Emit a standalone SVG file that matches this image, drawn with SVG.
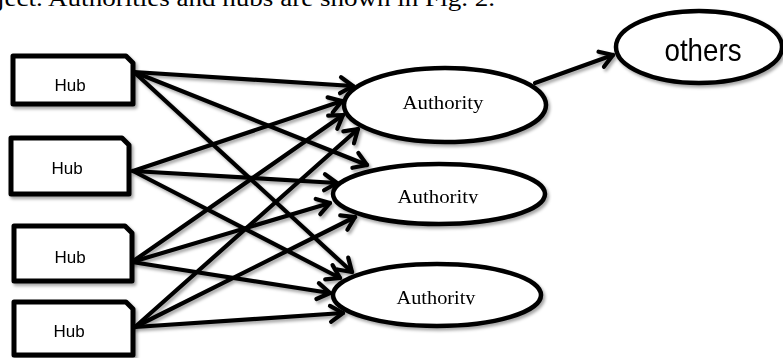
<svg xmlns="http://www.w3.org/2000/svg" width="783" height="358" viewBox="0 0 783 358">
<defs>
<style>
.box{fill:#fff;stroke:#000;stroke-width:5;stroke-linejoin:round}
.ell{fill:#fff;stroke:#000;stroke-width:4.5}
.hub{font-family:"Liberation Sans",Arial,sans-serif;font-size:17px;fill:#000;text-anchor:middle}
.auth{font-family:"Liberation Serif","Times New Roman",serif;font-size:19px;fill:#000;text-anchor:middle}
.edge{fill:none;stroke:#000;stroke-width:4.2;stroke-linecap:round;marker-end:url(#arr)}
</style>
<marker id="arr" viewBox="-16 -11 19 22" refX="0" refY="0" markerWidth="19" markerHeight="22" markerUnits="userSpaceOnUse" orient="auto">
<path d="M-12.5,-8 L0,0 L-12.5,8" fill="none" stroke="#000" stroke-width="4.2" stroke-linecap="round" stroke-linejoin="round"/>
</marker>
<filter id="sh" x="-10%" y="-10%" width="130%" height="130%">
<feDropShadow dx="2" dy="2.5" stdDeviation="1.5" flood-color="#000" flood-opacity="0.35"/>
</filter>
<clipPath id="cut2"><rect x="380" y="170" width="120" height="33.5"/></clipPath>
<clipPath id="cut3"><rect x="380" y="270" width="120" height="34.5"/></clipPath>
</defs>
<rect width="783" height="358" fill="#fff"/>
<text x="-3" y="6" font-family="'Liberation Serif','Times New Roman',serif" font-size="23" textLength="498" lengthAdjust="spacingAndGlyphs">ject. Authorities and hubs  are shown in Fig. 2.</text>
<g id="connectors" filter="url(#sh)">
<line class="edge" x1="134" y1="72" x2="353" y2="86"/>
<line class="edge" x1="134" y1="72" x2="367" y2="165"/>
<line class="edge" x1="134" y1="72" x2="352" y2="272"/>
<line class="edge" x1="133" y1="171" x2="342" y2="101"/>
<line class="edge" x1="133" y1="171" x2="337" y2="183"/>
<line class="edge" x1="133" y1="171" x2="340" y2="278"/>
<line class="edge" x1="132" y1="262" x2="343" y2="115"/>
<line class="edge" x1="132" y1="262" x2="330" y2="203"/>
<line class="edge" x1="132" y1="262" x2="330" y2="293"/>
<line class="edge" x1="135" y1="327" x2="358" y2="129"/>
<line class="edge" x1="135" y1="327" x2="355" y2="217"/>
<line class="edge" x1="135" y1="327" x2="343" y2="313"/>
<line class="edge" x1="535" y1="83" x2="613" y2="55"/>
</g>
<g id="hub1" filter="url(#sh)"><path class="box" d="M13,56 H126 L133,63 V104 H13 Z"/><text class="hub" x="70" y="91">Hub</text></g>
<g id="hub2" filter="url(#sh)"><path class="box" d="M11,138 H122 L129,145 V194 H11 Z"/><text class="hub" x="67" y="174">Hub</text></g>
<g id="hub3" filter="url(#sh)"><path class="box" d="M14,226 H125 L132,233 V281 H14 Z"/><text class="hub" x="70" y="263">Hub</text></g>
<g id="hub4" filter="url(#sh)"><path class="box" d="M14,302 H126 L133,309 V355 H14 Z"/><text class="hub" x="69" y="337">Hub</text></g>
<g id="authority1" filter="url(#sh)"><ellipse class="ell" cx="445" cy="105" rx="101" ry="37"/><text class="auth" x="443" y="109" textLength="81" lengthAdjust="spacingAndGlyphs">Authority</text></g>
<g id="authority2" filter="url(#sh)"><ellipse class="ell" cx="439" cy="194" rx="106" ry="30"/><text class="auth" x="438" y="203" textLength="81" lengthAdjust="spacingAndGlyphs" clip-path="url(#cut2)">Authority</text></g>
<g id="authority3" filter="url(#sh)"><ellipse class="ell" cx="437" cy="295" rx="104" ry="31"/><text class="auth" x="436" y="304" textLength="79" lengthAdjust="spacingAndGlyphs" clip-path="url(#cut3)">Authority</text></g>
<g id="others" filter="url(#sh)"><ellipse class="ell" cx="699" cy="47" rx="83" ry="36"/><text x="703" y="61" text-anchor="middle" font-family="'Liberation Sans',Arial,sans-serif" font-size="32" textLength="77" lengthAdjust="spacingAndGlyphs">others</text></g>
</svg>
